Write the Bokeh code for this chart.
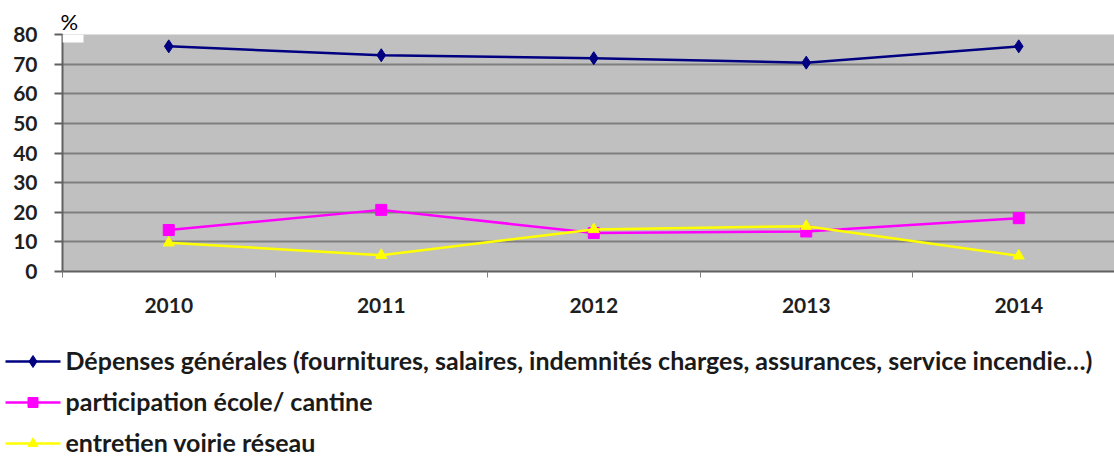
from bokeh.plotting import figure
from bokeh.models import Range1d, FixedTicker, BoxAnnotation
from bokeh.layouts import column
from bokeh.core.properties import value
from bokeh.embed import file_html
from bokeh.resources import INLINE

years = ["2010", "2011", "2012", "2013", "2014"]
depenses = [76, 73, 72, 70.5, 76]
participation = [14, 20.8, 13, 13.5, 18]
entretien = [9.7, 5.5, 14.2, 15.3, 5.3]
names = [
    "Dépenses générales (fournitures, salaires, indemnités charges, assurances, service incendie…)",
    "participation école/ cantine",
    "entretien voirie réseau",
]
y_ticks = [0, 10, 20, 30, 40, 50, 60, 70, 80]

xs = [i + 0.5 for i in range(len(years))]

FONT = "Lato"
W = 1114
MH = 326                            # main chart height
LH = 130                            # legend strip height
FL, FT, FB = 62, 34, 271            # frame left / top / bottom (px)
CAT_W = 212.5                       # px per category
x_end = (W - FL) / CAT_W

p = figure(width=W, height=MH, output_backend="svg", toolbar_location=None,
           x_range=Range1d(0, x_end), y_range=Range1d(0, 80),
           min_border_left=FL, min_border_right=0, min_border_top=FT,
           min_border_bottom=MH - FB)
p.outline_line_color = None
p.background_fill_color = "#c0c0c0"
p.border_fill_color = "white"

p.title.text = "%"
p.title.align = "left"
p.title.offset = -2
p.title.standoff = 0
p.title.text_font = FONT
p.title.text_font_style = "normal"
p.title.text_font_size = "22px"
p.title.text_color = "black"

# x axis: labels at category centres, ticks at boundaries
p.xaxis.ticker = FixedTicker(ticks=xs, minor_ticks=list(range(len(years) + 1)))
p.xaxis.major_label_overrides = {x: y for x, y in zip(xs, years)}
p.xaxis.major_tick_line_color = None
p.xaxis.minor_tick_in = 0
p.xaxis.minor_tick_out = 6
p.xaxis.minor_tick_line_color = "#808080"
p.xaxis.axis_line_color = "#606060"
p.xaxis.axis_line_width = 2
p.xaxis.major_label_text_font = FONT
p.xaxis.major_label_text_font_style = "bold"
p.xaxis.major_label_text_font_size = "21px"
p.xaxis.major_label_text_color = "#1f1f1f"
p.xaxis.major_label_standoff = 20

p.yaxis.ticker = FixedTicker(ticks=y_ticks)
p.yaxis.minor_tick_line_color = None
p.yaxis.major_tick_in = 0
p.yaxis.major_tick_out = 8
p.yaxis.major_tick_line_color = "#606060"
p.yaxis.major_tick_line_width = 2
p.yaxis.axis_line_color = "#606060"
p.yaxis.axis_line_width = 2
p.yaxis.major_label_text_font = FONT
p.yaxis.major_label_text_font_style = "bold"
p.yaxis.major_label_text_font_size = "21px"
p.yaxis.major_label_text_color = "#1f1f1f"
p.yaxis.major_label_standoff = 17

p.xgrid.grid_line_color = None
p.ygrid.grid_line_color = "#7f7f7f"
p.ygrid.grid_line_width = 2

# white patch behind the "%" title that overlaps the plot corner
px_y = 80 / (FB - FT)
p.add_layout(BoxAnnotation(left=0, right=21 / CAT_W, top=80, bottom=80 - 8 * px_y,
                           fill_color="white", fill_alpha=1, line_color=None,
                           level="overlay"))

series = [
    (depenses, "#000080", "diamond", 13),
    (participation, "#ff00ff", "square", 11),
    (entretien, "#ffff00", "triangle", 11),
]
for vals, col, mk, sz in series:
    p.line(xs, vals, line_color=col, line_width=2.5)
    p.scatter(xs, vals, marker=mk, size=sz, fill_color=col, line_color=col)

# legend strip below the chart (pixel coordinates, y from top)
lg = figure(width=W, height=LH, output_backend="svg", toolbar_location=None,
            x_range=Range1d(0, W), y_range=Range1d(LH, 0),
            x_axis_type=None, y_axis_type=None,
            min_border=0, outline_line_color=None)
lg.grid.visible = False
for fig in (p, lg):
    try:
        fig.frame_align = False
    except Exception:
        pass

row_y = [35, 76, 117]
gx0, gx1, tx = 5, 60, 65
for (vals, col, mk, sz), name, ry in zip(series, names, row_y):
    lg.segment(x0=[gx0], y0=[ry], x1=[gx1], y1=[ry], line_color=col, line_width=2.5)
    lg.scatter([(gx0 + gx1) / 2], [ry], marker=mk, size=sz - 1,
               fill_color=col, line_color=col)
    lg.text([tx], [ry - 2], text=[name], text_font=value(FONT),
            text_font_style="bold", text_font_size="25px",
            text_color="#1a1a1a", text_baseline="middle", text_align="left")

open("out.html", "w").write(file_html(column(p, lg), INLINE))
